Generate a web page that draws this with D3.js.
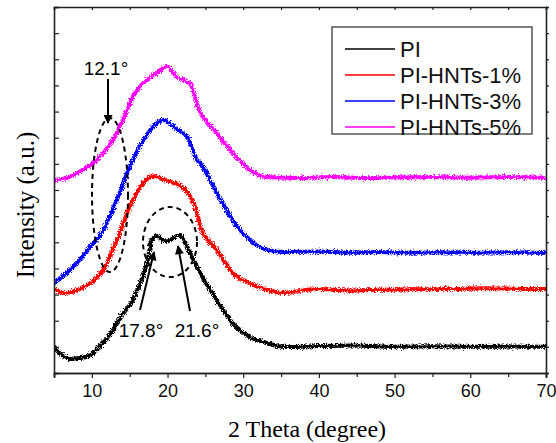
<!DOCTYPE html>
<html>
<head>
<meta charset="utf-8">
<script src="https://cdn.jsdelivr.net/npm/d3@7"></script>
<style>
  body { margin: 0; background: #fff; }
  svg { display: block; }
</style>
</head>
<body>
<svg id="chart" width="556" height="443"></svg>
<script>
// XRD patterns, values (arbitrary intensity units)
const seriesNames = ["PI", "PI-HNTs-1%", "PI-HNTs-3%", "PI-HNTs-5%"];
const seriesColors = ["#000000", "#ff0000", "#0000ff", "#ff00ff"];

const piTheta = [5, 6, 7.1, 8.4, 9.8, 10.7, 11.6, 12.4, 13.7, 15.4, 16.4, 17.3, 17.9, 18.6, 19.3, 19.9, 20.7, 21.6, 22.6, 24.3, 26.5, 28.6, 30.9, 33.1, 35.8, 40, 45, 50, 55, 60, 65, 70];
const piInt = [1.03, 0.69, 0.54, 0.57, 0.69, 0.92, 1.19, 1.45, 2.1, 2.79, 3.44, 4.21, 5.09, 5.24, 5.1, 5.03, 5.16, 5.28, 4.82, 3.83, 2.79, 1.91, 1.38, 1.15, 0.99, 1.03, 1.05, 1.0, 1.02, 1.0, 1.01, 1.0];

const hnt1Theta = [5, 6.4, 8.4, 10, 11.5, 13.3, 15, 16.4, 18.1, 19.9, 21.6, 22.6, 23.9, 24.3, 26.5, 28.6, 30.9, 33.1, 35.3, 39.7, 44, 48, 52, 57.3, 62, 66, 70];
const hnt1Int = [3.21, 3.06, 3.21, 3.48, 3.94, 5.09, 6.35, 7.12, 7.54, 7.35, 7.19, 6.92, 6.12, 5.59, 4.71, 3.83, 3.44, 3.18, 3.06, 3.21, 3.16, 3.18, 3.2, 3.21, 3.24, 3.22, 3.21];

const hnt3Theta = [5, 7.1, 9.8, 11.5, 13.3, 15, 16.8, 18.6, 19.4, 21.3, 22.6, 23.9, 24.3, 26.5, 28.6, 30.9, 33.1, 35.3, 40, 44, 48, 52, 56, 60, 65, 70];
const hnt3Int = [3.44, 3.94, 4.82, 5.47, 6.62, 7.88, 8.91, 9.56, 9.68, 9.3, 9.03, 8.15, 8.03, 6.89, 5.85, 5.09, 4.71, 4.63, 4.65, 4.6, 4.63, 4.6, 4.62, 4.6, 4.62, 4.59];

const hnt5Theta = [5, 7.1, 8.8, 10.2, 11.5, 12.8, 14.1, 15.4, 16.8, 18.6, 19.9, 21.3, 23, 24, 26.5, 28.6, 30.9, 33.1, 37.5, 41.9, 46, 50, 54.7, 60, 65, 70];
const hnt5Int = [7.38, 7.5, 7.77, 8.03, 8.42, 8.91, 9.68, 10.56, 11.09, 11.48, 11.71, 11.32, 11.06, 10.18, 9.18, 8.42, 7.77, 7.5, 7.46, 7.5, 7.46, 7.48, 7.5, 7.47, 7.5, 7.46];

const xTicks = [10, 20, 30, 40, 50, 60, 70];
const xMinorTicks = [5, 15, 25, 35, 45, 55, 65];
const yTicks = d3.range(0, 15, 1);

const series = [
  { theta: piTheta, val: piInt },
  { theta: hnt1Theta, val: hnt1Int },
  { theta: hnt3Theta, val: hnt3Int },
  { theta: hnt5Theta, val: hnt5Int },
];

const svg = d3.select("#chart");
const margin = { top: 7, right: 10, bottom: 70, left: 54 };
const width = 556, height = 443;

const x = d3.scaleLinear().domain([5, 70]).range([margin.left, width - margin.right]);
const y = d3.scaleLinear().domain([0, 14]).range([height - margin.bottom, margin.top]);

// jagged look of the raw scans
const defs = svg.append("defs");
const f = defs.append("filter").attr("id", "noisy")
  .attr("x", "-5%").attr("y", "-20%").attr("width", "110%").attr("height", "140%");
f.append("feTurbulence").attr("type", "fractalNoise").attr("baseFrequency", "1.3 0.7")
  .attr("numOctaves", 2).attr("seed", 3).attr("result", "t");
f.append("feDisplacementMap").attr("in", "SourceGraphic").attr("in2", "t")
  .attr("scale", 6).attr("xChannelSelector", "R").attr("yChannelSelector", "G");

defs.append("clipPath").attr("id", "plotclip").append("rect")
  .attr("x", margin.left + 1).attr("y", margin.top)
  .attr("width", width - margin.left - margin.right - 1)
  .attr("height", height - margin.top - margin.bottom);

const line = d3.line().x(d => x(d[0])).y(d => y(d[1])).curve(d3.curveMonotoneX);

const plot = svg.append("g").attr("clip-path", "url(#plotclip)");
series.forEach((s, i) => {
  plot.append("path")
    .datum(s.theta.map((t, k) => [t, s.val[k]]))
    .attr("fill", "none")
    .attr("stroke", seriesColors[i])
    .attr("stroke-width", 4)
    .attr("filter", "url(#noisy)")
    .attr("d", line);
});

// axes
const bottom = svg.append("g").attr("transform", `translate(0,${y(0)})`)
  .call(d3.axisBottom(x).tickValues(xTicks).tickSize(5).tickPadding(6).tickFormat(d3.format("d")));
svg.append("g").attr("transform", `translate(0,${y(0)})`)
  .call(d3.axisBottom(x).tickValues(xMinorTicks).tickSize(4).tickFormat(""));
svg.append("g").attr("transform", `translate(0,${y(14)})`)
  .call(d3.axisTop(x).tickValues(xTicks.concat(xMinorTicks)).tickSize(-3).tickFormat(""));
svg.append("g").attr("transform", `translate(${x(5)},0)`)
  .call(d3.axisLeft(y).tickValues(yTicks).tickSize(-5).tickFormat(""));
svg.append("g").attr("transform", `translate(${x(70)},0)`)
  .call(d3.axisRight(y).tickValues(yTicks).tickSize(3).tickFormat(""));

svg.selectAll(".domain").attr("stroke", "#222").attr("stroke-width", 1.6);
svg.selectAll(".tick line").attr("stroke", "#222").attr("stroke-width", 1.2);
bottom.selectAll(".tick text")
  .attr("font-family", "Arial, 'Liberation Sans', sans-serif")
  .attr("font-size", 18).attr("fill", "#111");

// axis titles
svg.append("text")
  .attr("x", 307).attr("y", 437)
  .attr("text-anchor", "middle")
  .attr("font-family", "'Times New Roman', 'Liberation Serif', serif")
  .attr("font-size", 24)
  .text("2 Theta (degree)");

svg.append("text")
  .attr("transform", "translate(34,205) rotate(-90)")
  .attr("text-anchor", "middle")
  .attr("font-family", "'Times New Roman', 'Liberation Serif', serif")
  .attr("font-size", 25)
  .text("Intensity (a.u.)");

// legend
const lg = svg.append("g");
lg.append("rect")
  .attr("x", 332).attr("y", 27).attr("width", 200).attr("height", 107)
  .attr("fill", "#fff").attr("stroke", "#555").attr("stroke-width", 1.5);
seriesNames.forEach((name, i) => {
  const ly = 49 + i * 26;
  lg.append("line")
    .attr("x1", 345).attr("x2", 395).attr("y1", ly).attr("y2", ly)
    .attr("stroke", seriesColors[i]).attr("stroke-width", 1.6);
  lg.append("text")
    .attr("x", 400).attr("y", ly + 8)
    .attr("font-family", "Arial, 'Liberation Sans', sans-serif")
    .attr("font-size", 22).attr("fill", "#111")
    .text(name);
});

// annotations
const ann = svg.append("g");
defs.append("marker").attr("id", "arrow")
  .attr("viewBox", "0 0 10 10").attr("refX", 9).attr("refY", 5)
  .attr("markerWidth", 14).attr("markerHeight", 9).attr("orient", "auto")
  .attr("markerUnits", "userSpaceOnUse")
  .append("path").attr("d", "M0,0 L10,5 L0,10 Z").attr("fill", "#000");

const font = "Arial, 'Liberation Sans', sans-serif";
ann.append("text").attr("x", 106).attr("y", 75).attr("text-anchor", "middle")
  .attr("font-family", font).attr("font-size", 19).text("12.1°");
ann.append("line").attr("x1", 108).attr("y1", 79).attr("x2", 108).attr("y2", 123)
  .attr("stroke", "#000").attr("stroke-width", 2).attr("marker-end", "url(#arrow)");

ann.append("ellipse").attr("cx", 110).attr("cy", 195).attr("rx", 18).attr("ry", 77)
  .attr("fill", "none").attr("stroke", "#000").attr("stroke-width", 2)
  .attr("stroke-dasharray", "5,4");
ann.append("ellipse").attr("cx", 170).attr("cy", 242).attr("rx", 27).attr("ry", 35)
  .attr("fill", "none").attr("stroke", "#000").attr("stroke-width", 2)
  .attr("stroke-dasharray", "5,4");

ann.append("line").attr("x1", 140).attr("y1", 310).attr("x2", 154).attr("y2", 252)
  .attr("stroke", "#000").attr("stroke-width", 2).attr("marker-end", "url(#arrow)");
ann.append("line").attr("x1", 190).attr("y1", 311).attr("x2", 178).attr("y2", 246)
  .attr("stroke", "#000").attr("stroke-width", 2).attr("marker-end", "url(#arrow)");

ann.append("text").attr("x", 141).attr("y", 337).attr("text-anchor", "middle")
  .attr("font-family", font).attr("font-size", 19).text("17.8°");
ann.append("text").attr("x", 197).attr("y", 337).attr("text-anchor", "middle")
  .attr("font-family", font).attr("font-size", 19).text("21.6°");
</script>
</body>
</html>
